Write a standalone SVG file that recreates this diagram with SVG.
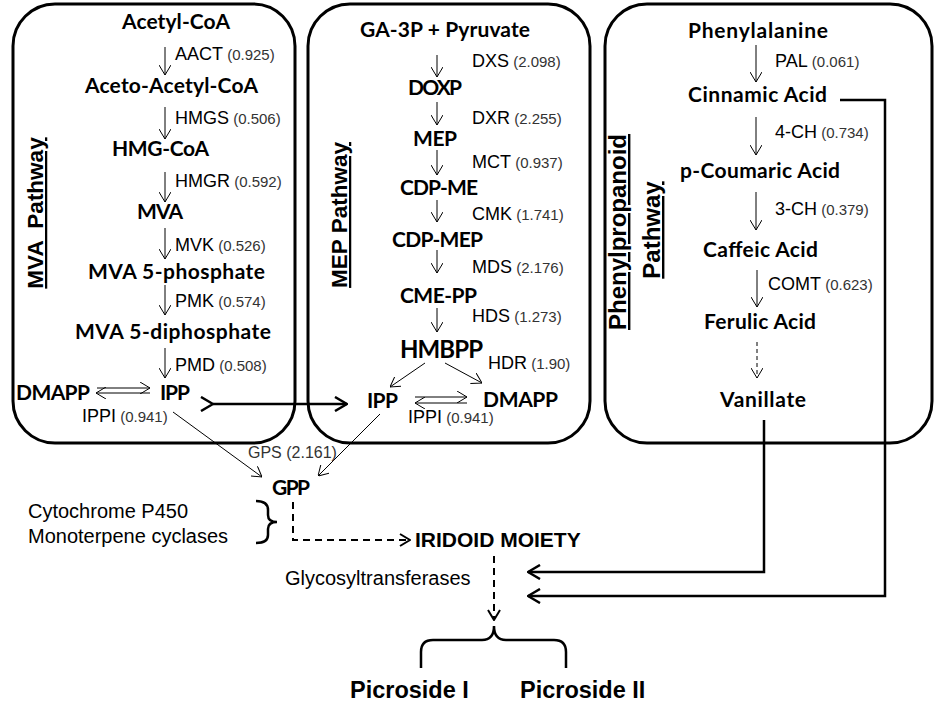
<svg xmlns="http://www.w3.org/2000/svg" width="936" height="717" viewBox="0 0 936 717">
<style>
.box{fill:none;stroke:#000;stroke-width:3}
.n{font-family:Lato,"Open Sans",sans-serif;font-weight:700;font-size:21px;text-anchor:middle;fill:#000}
.e{font-family:"Liberation Sans",Arial,sans-serif;font-size:18px;fill:#000}
.num{font-size:15px;fill:#333}
.t{font-family:"Liberation Sans",Arial,sans-serif;font-size:20px;fill:#000}
.b{font-family:"Liberation Sans",Arial,sans-serif;font-weight:700;fill:#000}
.v{font-family:"Liberation Sans",Arial,sans-serif;font-weight:700;font-size:22.5px;text-anchor:middle;text-decoration:underline}
.a{fill:none;stroke:#000;stroke-width:1}
.ad{fill:none;stroke:#000;stroke-width:1;stroke-dasharray:4 3}
.k{fill:none;stroke:#000;stroke-width:2.5}
.kd{fill:none;stroke:#000;stroke-width:2;stroke-dasharray:7 5}
</style>
<defs>
<marker id="h" viewBox="0 0 10 12" refX="10" refY="6" markerWidth="10" markerHeight="12" markerUnits="userSpaceOnUse" orient="auto"><path d="M0,0 L10,6 L0,12" fill="none" stroke="#000" stroke-width="1"/></marker>
<marker id="hk" viewBox="0 0 14 16" refX="13" refY="8" markerWidth="14" markerHeight="16" markerUnits="userSpaceOnUse" orient="auto"><path d="M1,1 L13,8 L1,15" fill="none" stroke="#000" stroke-width="2.5"/></marker>
<marker id="hd" viewBox="0 0 12 14" refX="11" refY="7" markerWidth="12" markerHeight="14" markerUnits="userSpaceOnUse" orient="auto"><path d="M1,1 L11,7 L1,13" fill="none" stroke="#000" stroke-width="2"/></marker>
</defs>

<g id="boxes">
<rect id="mva-box" class="box" x="13" y="4" width="282" height="439" rx="42"/>
<rect id="mep-box" class="box" x="308" y="4" width="282" height="439" rx="42"/>
<rect id="phen-box" class="box" x="605" y="4" width="327" height="439" rx="42"/>
</g>

<g id="titles">
<text class="v" transform="translate(43,213) rotate(-90)" xml:space="preserve">MVA  Pathway</text>
<text class="v" transform="translate(347,215) rotate(-90)">MEP Pathway</text>
<text class="v" transform="translate(626,232) rotate(-90)" style="font-size:24px">Phenylpropanoid</text>
<text class="v" transform="translate(660,230) rotate(-90)" style="font-size:24px">Pathway</text>
</g>

<g id="connectors">
<line class="a" x1="165" y1="47" x2="165" y2="75" marker-end="url(#h)"/>
<line class="a" x1="165" y1="107" x2="165" y2="139" marker-end="url(#h)"/>
<line class="a" x1="165" y1="172" x2="165" y2="202" marker-end="url(#h)"/>
<line class="a" x1="165" y1="228" x2="165" y2="259" marker-end="url(#h)"/>
<line class="a" x1="165" y1="285" x2="165" y2="315" marker-end="url(#h)"/>
<line class="a" x1="165" y1="348" x2="165" y2="378" marker-end="url(#h)"/>
<line class="a" x1="97" y1="388" x2="150" y2="388" marker-end="url(#h)"/>
<line class="a" x1="150" y1="393" x2="96" y2="393" marker-end="url(#h)"/>

<line class="a" x1="437" y1="55" x2="437" y2="77" marker-end="url(#h)"/>
<line class="a" x1="437" y1="102" x2="437" y2="125" marker-end="url(#h)"/>
<line class="a" x1="437" y1="150" x2="437" y2="175" marker-end="url(#h)"/>
<line class="a" x1="437" y1="200" x2="437" y2="222" marker-end="url(#h)"/>
<line class="a" x1="437" y1="250" x2="437" y2="273" marker-end="url(#h)"/>
<line class="a" x1="437" y1="308" x2="437" y2="332" marker-end="url(#h)"/>
<line class="a" x1="425" y1="363" x2="390" y2="387" marker-end="url(#h)"/>
<line class="a" x1="445" y1="363" x2="482" y2="383" marker-end="url(#h)"/>
<line class="a" x1="415" y1="397" x2="467" y2="397" marker-end="url(#h)"/>
<line class="a" x1="467" y1="403" x2="415" y2="403" marker-end="url(#h)"/>

<line class="a" x1="756" y1="45" x2="756" y2="82" marker-end="url(#h)"/>
<line class="a" x1="756" y1="117" x2="756" y2="155" marker-end="url(#h)"/>
<line class="a" x1="756" y1="192" x2="756" y2="230" marker-end="url(#h)"/>
<line class="a" x1="757" y1="270" x2="757" y2="307" marker-end="url(#h)"/>
<line class="ad" x1="757" y1="342" x2="757" y2="378" marker-end="url(#h)"/>

<line class="k" x1="213" y1="404" x2="347" y2="404" marker-start="url(#hk)" marker-end="url(#hk)"/>
<line class="a" x1="173" y1="412" x2="262" y2="477" marker-end="url(#h)"/>
<line class="a" x1="380" y1="414" x2="318" y2="476" marker-end="url(#h)"/>

<path class="kd" d="M293,502 V540 H410" marker-end="url(#hd)"/>
<path class="kd" d="M494,556 V620" marker-end="url(#hd)"/>
<path class="k" d="M764,420 V572 H528" marker-end="url(#hk)"/>
<path class="k" d="M840,100 H885 V596 H528" marker-end="url(#hk)"/>

<path class="k" d="M256,501 Q268,501 268,510 L268,515 Q268,522 277,522 Q268,522 268,529 L268,535 Q268,543 256,543" stroke-width="2"/>
<path class="k" d="M421,668 L421,652 Q421,640 433,640 L482,640 Q494,640 494,626 Q494,640 506,640 L554,640 Q566,640 566,652 L566,668" stroke-width="2"/>
</g>

<g id="mva-nodes">
<g id="acetyl-coa"><text class="n" x="176" y="29" textLength="108">Acetyl-CoA</text></g>
<g id="aceto-acetyl-coa"><text class="n" x="171.5" y="93" textLength="173">Aceto-Acetyl-CoA</text></g>
<g id="hmg-coa"><text class="n" x="160.5" y="156" textLength="97">HMG-CoA</text></g>
<g id="mva"><text class="n" x="160" y="219" textLength="46">MVA</text></g>
<g id="mva5p"><text class="n" x="176.5" y="279" textLength="177">MVA 5-phosphate</text></g>
<g id="mva5pp"><text class="n" x="173" y="339" textLength="196">MVA 5-diphosphate</text></g>
<g id="dmapp-mva"><text class="n" x="53" y="400" textLength="74">DMAPP</text></g>
<g id="ipp-mva"><text class="n" x="175" y="400" textLength="30">IPP</text></g>
</g>

<g id="mep-nodes">
<g id="ga3p"><text class="n" x="445" y="37" textLength="170">GA-3P + Pyruvate</text></g>
<g id="doxp"><text class="n" x="435" y="95" textLength="54">DOXP</text></g>
<g id="mep"><text class="n" x="435" y="146" textLength="44">MEP</text></g>
<g id="cdp-me"><text class="n" x="439" y="195" textLength="78">CDP-ME</text></g>
<g id="cdp-mep"><text class="n" x="437.5" y="247" textLength="91">CDP-MEP</text></g>
<g id="cme-pp"><text class="n" x="438.5" y="303" textLength="77">CME-PP</text></g>
<g id="hmbpp"><text class="n" x="441.5" y="358" textLength="83" style="font-size:24px">HMBPP</text></g>
<g id="ipp-mep"><text class="n" x="382.5" y="408" textLength="31">IPP</text></g>
<g id="dmapp-mep"><text class="n" x="520.5" y="407" textLength="75">DMAPP</text></g>
</g>

<g id="phen-nodes">
<g id="phenylalanine"><text class="n" x="758" y="38" textLength="140">Phenylalanine</text></g>
<g id="cinnamic"><text class="n" x="757.5" y="102" textLength="139">Cinnamic Acid</text></g>
<g id="coumaric"><text class="n" x="760" y="178" textLength="160">p-Coumaric Acid</text></g>
<g id="caffeic"><text class="n" x="760.5" y="257" textLength="115">Caffeic Acid</text></g>
<g id="ferulic"><text class="n" x="760" y="329" textLength="112">Ferulic Acid</text></g>
<g id="vanillate"><text class="n" x="763" y="407" textLength="86">Vanillate</text></g>
</g>

<g id="enzymes">
<text class="e" x="175" y="60">AACT<tspan class="num"> (0.925)</tspan></text>
<text class="e" x="175" y="124">HMGS<tspan class="num"> (0.506)</tspan></text>
<text class="e" x="175" y="187">HMGR<tspan class="num"> (0.592)</tspan></text>
<text class="e" x="175" y="251">MVK<tspan class="num"> (0.526)</tspan></text>
<text class="e" x="175" y="307">PMK<tspan class="num"> (0.574)</tspan></text>
<text class="e" x="175" y="371">PMD<tspan class="num"> (0.508)</tspan></text>
<text class="e" x="82" y="422">IPPI<tspan class="num"> (0.941)</tspan></text>
<text class="e" x="472" y="67">DXS<tspan class="num"> (2.098)</tspan></text>
<text class="e" x="472" y="124">DXR<tspan class="num"> (2.255)</tspan></text>
<text class="e" x="472" y="168">MCT<tspan class="num"> (0.937)</tspan></text>
<text class="e" x="472" y="220">CMK<tspan class="num"> (1.741)</tspan></text>
<text class="e" x="472" y="273">MDS<tspan class="num"> (2.176)</tspan></text>
<text class="e" x="472" y="322">HDS<tspan class="num"> (1.273)</tspan></text>
<text class="e" x="488" y="369">HDR<tspan class="num"> (1.90)</tspan></text>
<text class="e" x="408" y="423">IPPI<tspan class="num"> (0.941)</tspan></text>
<text class="e" x="775" y="67">PAL<tspan class="num"> (0.061)</tspan></text>
<text class="e" x="775" y="138">4-CH<tspan class="num"> (0.734)</tspan></text>
<text class="e" x="775" y="215">3-CH<tspan class="num"> (0.379)</tspan></text>
<text class="e" x="768" y="290">COMT<tspan class="num"> (0.623)</tspan></text>
<text class="e" x="248" y="458" style="font-size:16px;fill:#333">GPS (2.161)</text>
</g>

<g id="bottom-nodes">
<g id="gpp"><text class="n" x="291" y="495" textLength="38">GPP</text></g>
<g id="cyt-label"><text class="t" x="28" y="518">Cytochrome P450</text><text class="t" x="28" y="543">Monoterpene cyclases</text></g>
<g id="iridoid"><text class="b" x="415" y="547" style="font-size:21px">IRIDOID MOIETY</text></g>
<g id="glyco"><text class="t" x="285" y="585">Glycosyltransferases</text></g>
<g id="picroside1"><text class="b" x="350" y="698" style="font-size:23.5px">Picroside I</text></g>
<g id="picroside2"><text class="b" x="520" y="698" style="font-size:23.5px">Picroside II</text></g>
</g>
</svg>
